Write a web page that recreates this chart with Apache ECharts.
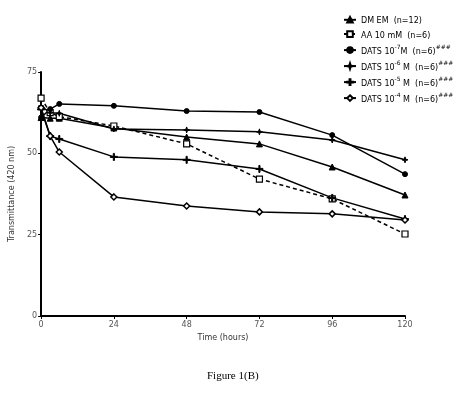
<!DOCTYPE html>
<html><head><meta charset="utf-8">
<script src="https://cdn.jsdelivr.net/npm/echarts@6/dist/echarts.min.js"></script>
<style>html,body{margin:0;padding:0;background:#fff}#c{width:472px;height:393px}</style>
</head><body><div id="c"></div>
<script>
const times = [0, 3, 6, 24, 48, 72, 96, 120];
const xTicks = [0, 24, 48, 72, 96, 120];
const yTicks = [0, 25, 50, 75];
const dmem   = [61.0, 60.8, 60.8, 57.8, 55.0, 52.9, 45.8, 37.2];
const aa     = [67.0, 62.5, 61.3, 58.4, 52.9, 42.1, 36.0, 25.2];
const dats7  = [61.0, 63.6, 65.2, 64.6, 63.0, 62.7, 55.6, 43.6];
const dats6  = [64.5, 62.5, 62.3, 57.5, 57.2, 56.6, 54.1, 48.0];
const dats5  = [63.5, 55.3, 54.4, 48.9, 48.0, 45.2, 36.3, 29.8];
const dats4  = [64.0, 55.3, 50.4, 36.6, 33.8, 32.0, 31.4, 29.5];
const names = ['DMEM', 'AA', 'D7', 'D6', 'D5', 'D4'];
const labels = {
  DMEM: '{a|DM EM  (n=12)}',
  AA: '{a|AA 10 mM  (n=6)}',
  D7: '{a|DATS 10}{s|-7}{a|M  (n=6)}{s|###}',
  D6: '{a|DATS 10}{s|-6}{a| M  (n=6)}{s|###}',
  D5: '{a|DATS 10}{s|-5}{a| M  (n=6)}{s|###}',
  D4: '{a|DATS 10}{s|-4}{a| M  (n=6)}{s|###}'
};
const plusPath = 'path://M0,4.2 L10,4.2 L10,5.8 L5.8,5.8 L5.8,10 L4.2,10 L4.2,5.8 L0,5.8 Z M4.2,0 L5.8,0 L5.8,4.2 L4.2,4.2 Z';
const starPath = 'path://M5,0 L6.2,3.8 L10,5 L6.2,6.2 L5,10 L3.8,6.2 L0,5 L3.8,3.8 Z';
function pairs(arr){ return times.map((t,i)=>[t,arr[i]]); }
function mk(name, data, symbol, size, extra){
  return Object.assign({
    name: name, type: 'line', data: pairs(data), symbol: symbol, symbolSize: size,
    lineStyle: {color: '#000', width: 1.5}, itemStyle: {color: '#000', borderColor: '#000', borderWidth: 1},
    emphasis: {disabled: true}, animation: false
  }, extra || {});
}
const chart = echarts.init(document.getElementById('c'), null, {renderer: 'canvas'});
chart.setOption({
  backgroundColor: '#fff',
  animation: false,
  grid: {left: 37, right: 67, top: 72, bottom: 77},
  title: {text: 'Figure 1(B)', left: 202, top: 366, textStyle: {fontFamily: 'Liberation Serif', fontSize: 11, fontWeight: 'normal', color: '#000'}},
  legend: {
    orient: 'vertical', left: 338, top: 11, itemGap: 5, itemWidth: 12, itemHeight: 7,
    data: names,
    formatter: n => labels[n],
    textStyle: {color: '#000', rich: {
      a: {fontFamily: 'DejaVu Sans', fontSize: 8, color: '#000', padding: [3,0,0,0]},
      s: {fontFamily: 'DejaVu Sans', fontSize: 6, color: '#000', verticalAlign: 'top', padding: [0,0,4,0]}
    }}
  },
  xAxis: {
    type: 'value', min: 0, max: 120, interval: 24,
    name: 'Time (hours)', nameLocation: 'middle', nameGap: 13,
    nameTextStyle: {fontFamily: 'DejaVu Sans', fontSize: 8, color: '#333'},
    axisLine: {lineStyle: {color: '#000', width: 2}},
    axisTick: {length: 3, lineStyle: {color: '#000'}},
    axisLabel: {fontFamily: 'DejaVu Sans', fontSize: 8, color: '#555', margin: 5,
      formatter: v => xTicks.includes(v) ? String(v) : ''},
    splitLine: {show: false}
  },
  yAxis: {
    type: 'value', min: 0, max: 75, interval: 25,
    name: 'Transmittance (420 nm)', nameLocation: 'middle', nameGap: 17,
    nameTextStyle: {fontFamily: 'DejaVu Sans', fontSize: 8, color: '#333'},
    axisLine: {show: true, lineStyle: {color: '#000', width: 2}},
    axisTick: {show: true, length: 3, lineStyle: {color: '#000'}},
    axisLabel: {fontFamily: 'DejaVu Sans', fontSize: 8, color: '#555', margin: 4,
      formatter: v => yTicks.includes(v) ? String(v) : ''},
    splitLine: {show: false}
  },
  series: [
    mk('DMEM', dmem, 'triangle', 6),
    mk('AA', aa, 'rect', 6, {itemStyle: {color: '#fff', borderColor: '#000', borderWidth: 1.2}, lineStyle: {color: '#000', width: 1.5, type: [4, 3]}}),
    mk('D7', dats7, 'circle', 5),
    mk('D6', dats6, starPath, 6),
    mk('D5', dats5, plusPath, 7),
    mk('D4', dats4, 'diamond', 6, {itemStyle: {color: '#fff', borderColor: '#000', borderWidth: 1.5}})
  ]
});
</script></body></html>
